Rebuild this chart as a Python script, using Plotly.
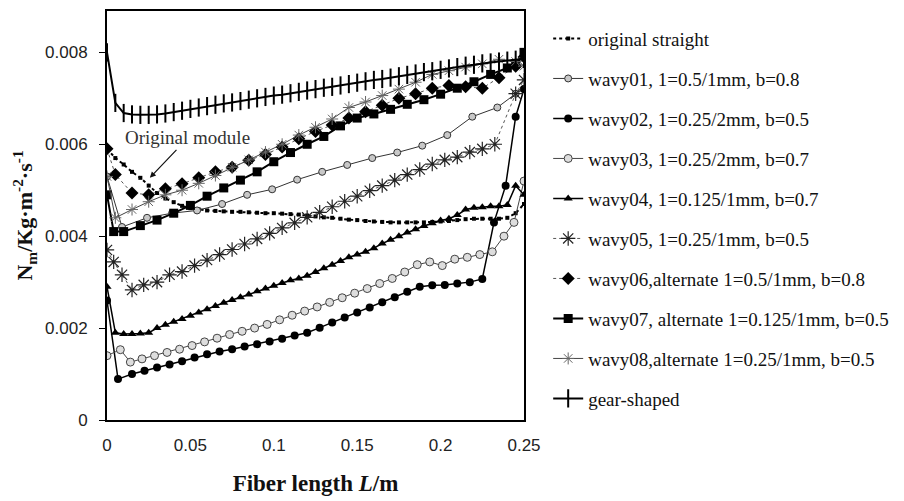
import plotly.graph_objects as go

# ---------------- data ----------------
X_FINE = [0, 0.005, 0.01, 0.015, 0.02, 0.025, 0.03, 0.035, 0.04, 0.045, 0.05,
          0.055, 0.06, 0.065, 0.07, 0.075, 0.08, 0.085, 0.09, 0.095, 0.1,
          0.105, 0.11, 0.115, 0.12, 0.125, 0.13, 0.135, 0.14, 0.145, 0.15,
          0.155, 0.16, 0.165, 0.17, 0.175, 0.18, 0.185, 0.19, 0.195, 0.2,
          0.205, 0.21, 0.215, 0.22, 0.225, 0.23, 0.235, 0.24, 0.245, 0.25]

y_straight = [0.0059, 0.0057, 0.00556, 0.0054, 0.00527, 0.0051, 0.00494, 0.00482, 0.00474, 0.00466, 0.00461,
              0.00458, 0.00456, 0.00455, 0.00454, 0.00453, 0.00453, 0.00452, 0.00451, 0.0045, 0.0045,
              0.00449, 0.00448, 0.00447, 0.00445, 0.00443, 0.00441, 0.0044, 0.00438, 0.00436, 0.00435,
              0.00433, 0.00432, 0.00431, 0.0043, 0.0043, 0.0043, 0.0043, 0.0043, 0.00431, 0.00432,
              0.00433, 0.00435, 0.00437, 0.00438, 0.00438, 0.00438, 0.00438, 0.0044, 0.0045, 0.0047]

y_gear = [0.0080, 0.0069, 0.00668, 0.00665, 0.00664, 0.00664, 0.00665, 0.00667, 0.0067, 0.00673, 0.00677,
          0.0068, 0.00683, 0.00686, 0.00689, 0.00691, 0.00694, 0.00697, 0.007, 0.00703, 0.00706,
          0.00708, 0.00711, 0.00714, 0.00717, 0.0072, 0.00723, 0.00725, 0.00728, 0.00731, 0.00734,
          0.00737, 0.0074, 0.00742, 0.00745, 0.00748, 0.00751, 0.00754, 0.00757, 0.00759, 0.00762,
          0.00765, 0.00768, 0.00771, 0.00773, 0.00776, 0.00778, 0.0078, 0.00782, 0.00784, 0.00786]

y_w04 = [0.0029, 0.0019, 0.00187, 0.00187, 0.00188, 0.0019, 0.002, 0.00207, 0.00214, 0.0022, 0.00227,
         0.00234, 0.00241, 0.00248, 0.00255, 0.00261, 0.00267, 0.00273, 0.0028, 0.00286, 0.00292,
         0.00298, 0.00304, 0.00308, 0.00314, 0.00322, 0.0033, 0.00338, 0.00346, 0.00354, 0.0036,
         0.00366, 0.00374, 0.00384, 0.00392, 0.004, 0.00408, 0.00415, 0.00422, 0.00428, 0.00434,
         0.00438, 0.00446, 0.00458, 0.00462, 0.00463, 0.00465, 0.00465, 0.00468, 0.0051, 0.0049]

X_W01 = [0, 0.009, 0.024, 0.039, 0.054, 0.069, 0.084, 0.099, 0.114, 0.129, 0.144,
         0.159, 0.174, 0.189, 0.204, 0.219, 0.234, 0.245, 0.25]
y_w01 = [0.0053, 0.0042, 0.0044, 0.0045, 0.00456, 0.0047, 0.0049, 0.00502, 0.00523, 0.0054, 0.00555,
         0.0057, 0.00582, 0.00597, 0.0062, 0.0066, 0.0068, 0.0071, 0.0072]

X_W02 = [0, 0.0066, 0.015, 0.0225, 0.03, 0.0375, 0.045, 0.0525, 0.06, 0.0675, 0.075,
         0.0825, 0.09, 0.0975, 0.105, 0.1125, 0.12, 0.1275, 0.135, 0.1425, 0.15,
         0.1575, 0.165, 0.1725, 0.18, 0.1875, 0.195, 0.2025, 0.21, 0.2175, 0.225,
         0.232, 0.239, 0.245, 0.25]
y_w02 = [0.0026, 0.00089, 0.001, 0.00107, 0.00114, 0.00121, 0.00128, 0.00136, 0.00143, 0.00149, 0.00154,
         0.0016, 0.00165, 0.00171, 0.00177, 0.00184, 0.0019, 0.00201, 0.00212, 0.00223, 0.00234,
         0.00245, 0.00256, 0.00267, 0.00279, 0.0029, 0.00293, 0.00294, 0.00297, 0.003, 0.00307,
         0.0043, 0.0051, 0.0066, 0.0072]

X_W03 = [0, 0.008, 0.014, 0.021, 0.0285, 0.036, 0.0435, 0.051, 0.0585, 0.066, 0.0735,
         0.081, 0.0885, 0.096, 0.1035, 0.111, 0.1185, 0.126, 0.1335, 0.141, 0.1485,
         0.156, 0.1635, 0.171, 0.1785, 0.186, 0.1935, 0.201, 0.2085, 0.216, 0.2235,
         0.231, 0.238, 0.244, 0.25]
y_w03 = [0.0014, 0.00153, 0.00126, 0.00133, 0.0014, 0.00147, 0.00154, 0.00162, 0.0017, 0.00178, 0.00186,
         0.00193, 0.002, 0.00208, 0.00218, 0.00228, 0.00237, 0.00246, 0.00256, 0.00266, 0.00276,
         0.00286, 0.00297, 0.00308, 0.00322, 0.00338, 0.00344, 0.00336, 0.0035, 0.00354, 0.0036,
         0.00366, 0.004, 0.0043, 0.0052]

X_W05 = [0, 0.004, 0.009, 0.015, 0.022, 0.03, 0.0375, 0.045, 0.0525, 0.06, 0.0675,
         0.075, 0.0825, 0.09, 0.0975, 0.105, 0.1125, 0.12, 0.1275, 0.135, 0.1425,
         0.15, 0.1575, 0.165, 0.1725, 0.18, 0.1875, 0.195, 0.2025, 0.21, 0.2175,
         0.225, 0.2325, 0.245, 0.25]
y_w05 = [0.0037, 0.00344, 0.00316, 0.00283, 0.00294, 0.003, 0.00316, 0.00323, 0.00336, 0.00348, 0.0036,
         0.00371, 0.00383, 0.00394, 0.00406, 0.00418, 0.00429, 0.00441, 0.00452, 0.00464, 0.00476,
         0.00487, 0.00499, 0.0051, 0.00522, 0.00534, 0.00545, 0.00557, 0.00566, 0.00572, 0.00583,
         0.0059, 0.006, 0.0071, 0.0074]

X_ALT = [0, 0.005, 0.015, 0.025, 0.035, 0.045, 0.055, 0.065, 0.075, 0.085, 0.095,
         0.105, 0.115, 0.125, 0.135, 0.145, 0.155, 0.165, 0.175, 0.185, 0.195,
         0.205, 0.215, 0.225, 0.235, 0.245, 0.25]
y_w06 = [0.0059, 0.00534, 0.00494, 0.0049, 0.00503, 0.00514, 0.00527, 0.0054, 0.0055, 0.00565, 0.00578,
         0.00594, 0.00612, 0.00628, 0.00642, 0.00657, 0.00671, 0.00685, 0.007, 0.0071, 0.00722,
         0.00728, 0.00725, 0.00722, 0.00745, 0.0077, 0.0079]
y_w08 = [0.0053, 0.0044, 0.00458, 0.00475, 0.0049, 0.005, 0.00515, 0.00532, 0.0055, 0.00566, 0.00583,
         0.006, 0.0062, 0.00637, 0.00655, 0.0068, 0.00692, 0.00706, 0.0072, 0.00735, 0.00752,
         0.0076, 0.00768, 0.00775, 0.00785, 0.0078, 0.0077]

X_W07 = [0, 0.004, 0.01, 0.02, 0.03, 0.04, 0.05, 0.06, 0.07, 0.08, 0.09,
         0.1, 0.11, 0.12, 0.13, 0.14, 0.15, 0.16, 0.17, 0.18, 0.19,
         0.2, 0.21, 0.22, 0.23, 0.24, 0.245, 0.25]
y_w07 = [0.0049, 0.0041, 0.0041, 0.00423, 0.00435, 0.0045, 0.00467, 0.00487, 0.00505, 0.00522, 0.0054,
         0.00562, 0.00582, 0.006, 0.00617, 0.0064, 0.00657, 0.00666, 0.00676, 0.00687, 0.00697,
         0.00709, 0.00722, 0.00736, 0.00752, 0.00766, 0.00775, 0.0080]

names = ["original straight",
         "wavy01, 1=0.5/1mm, b=0.8",
         "wavy02, 1=0.25/2mm, b=0.5",
         "wavy03, 1=0.25/2mm, b=0.7",
         "wavy04, 1=0.125/1mm, b=0.7",
         "wavy05, 1=0.25/1mm, b=0.5",
         "wavy06,alternate 1=0.5/1mm, b=0.8",
         "wavy07, alternate 1=0.125/1mm, b=0.5",
         "wavy08,alternate 1=0.25/1mm, b=0.5",
         "gear-shaped"]

x_ticks = [0, 0.05, 0.1, 0.15, 0.2, 0.25]
y_ticks = [0, 0.002, 0.004, 0.006, 0.008]

# ---------------- figure ----------------
fig = go.Figure()

def add(name, x, y, line, marker, i):
    fig.add_trace(go.Scatter(x=x, y=y, name=name, mode="lines+markers",
                             line=line, marker=marker, legendgroup=f"g{i}"))

add(names[0], X_FINE, y_straight, dict(color="black", width=2, dash="3px,3px"),
    dict(symbol="square", size=4, color="black"), 0)
add(names[1], X_W01, y_w01, dict(color="#333", width=1),
    dict(symbol="circle", size=7, color="#c8c8c8", line=dict(color="#333", width=1)), 1)
add(names[2], X_W02, y_w02, dict(color="black", width=1.5),
    dict(symbol="circle", size=8, color="black"), 2)
add(names[3], X_W03, y_w03, dict(color="#444", width=1),
    dict(symbol="circle", size=8, color="#dddddd", line=dict(color="#444", width=1)), 3)
add(names[4], X_FINE, y_w04, dict(color="black", width=1.5),
    dict(symbol="triangle-up", size=8, color="black"), 4)
add(names[5], X_W05, y_w05, dict(color="#555", width=1, dash="dot"),
    dict(symbol="asterisk-open", size=12, color="#222", line=dict(width=1.2, color="#222")), 5)
add(names[6], X_ALT, y_w06, dict(color="#555", width=1, dash="dot"),
    dict(symbol="diamond", size=10, color="black"), 6)
add(names[7], X_W07, y_w07, dict(color="black", width=2),
    dict(symbol="square", size=9, color="black"), 7)
add(names[8], X_ALT, y_w08, dict(color="#444", width=1),
    dict(symbol="asterisk-open", size=10, color="#666", line=dict(width=1, color="#666")), 8)
add(names[9], X_FINE, y_gear, dict(color="black", width=2),
    dict(symbol="line-ns-open", size=13, color="black", line=dict(width=2, color="black")), 9)

fig.add_annotation(x=0.0257, y=0.00527, xref="x", yref="y",
                   text="Original module", showarrow=True, ax=38, ay=-40,
                   arrowhead=2, arrowsize=1, arrowwidth=1.2, arrowcolor="#111",
                   font=dict(family="Liberation Serif", size=19, color="#333"))

# the page body adds a small offset, so margins are shifted to compensate
fig.update_layout(
    width=904, height=501,
    margin=dict(l=99, r=388, t=3, b=89, autoexpand=False),
    paper_bgcolor="white", plot_bgcolor="white",
    font=dict(family="Liberation Sans", color="#222"),
    showlegend=True,
    legend=dict(x=1.058, xanchor="left", y=0.979, yanchor="top",
                traceorder="grouped", tracegroupgap=12.3, maxheight=1.0,
                font=dict(family="Liberation Serif", size=19, color="#111"),
                bgcolor="rgba(0,0,0,0)"),
)
fig.update_xaxes(range=[0, 0.25], tickvals=x_ticks, ticktext=[str(v) for v in x_ticks],
                 showline=True, linecolor="black", linewidth=2, mirror=True,
                 showgrid=False, zeroline=False, ticks="", ticklabelstandoff=9,
                 automargin=False,
                 tickfont=dict(family="Liberation Sans", size=17, color="#222"),
                 title=dict(text="<b>Fiber length <i>L</i>/m</b>", standoff=20,
                            font=dict(family="Liberation Serif", size=23, color="#111")))
fig.update_yaxes(range=[0, 0.0089], tickvals=y_ticks, ticktext=[str(v) for v in y_ticks],
                 showline=True, linecolor="black", linewidth=2, mirror=True,
                 showgrid=False, zeroline=False, ticks="outside", ticklen=6, tickcolor="black",
                 ticklabelstandoff=8, automargin=False,
                 tickfont=dict(family="Liberation Sans", size=17, color="#222"),
                 title=dict(text="<b>N<sub>m</sub>/Kg·m<sup>-2</sup>·s<sup>-1</sup></b>", standoff=6,
                            font=dict(family="Liberation Serif", size=22, color="#111")))

fig.write_html("out.html")
